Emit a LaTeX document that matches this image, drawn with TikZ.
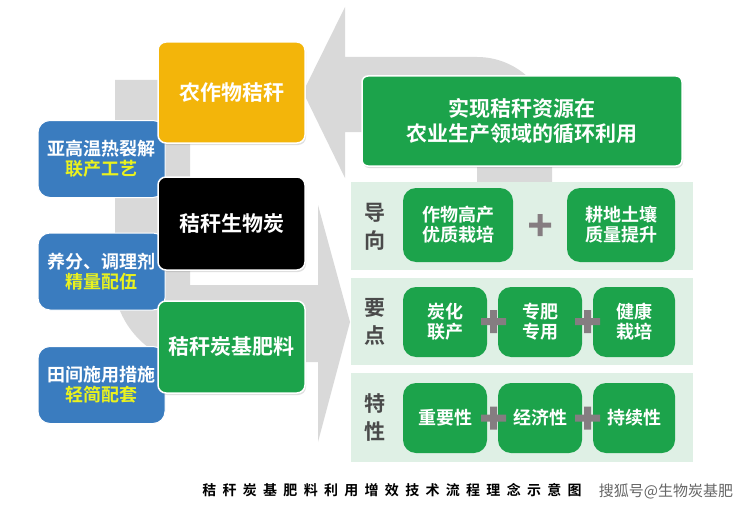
\documentclass[tikz,border=0pt]{standalone}
\usepackage{fontspec}
\setmainfont{Noto Sans CJK SC}[BoldFont={Noto Sans CJK SC Bold}]
\usetikzlibrary{shadows}
\definecolor{loopgray}{HTML}{D9D9D9}
\definecolor{gold}{HTML}{F3B50A}
\definecolor{steel}{HTML}{3A7CBF}
\definecolor{leaf}{HTML}{1CA34B}
\definecolor{mint}{HTML}{DFF0E5}
\definecolor{labelgray}{HTML}{4A4A4A}
\definecolor{plusgray}{HTML}{857D81}
\definecolor{hilite}{HTML}{EAF21E}
\begin{document}
\begin{tikzpicture}[x=1pt,y=-1pt,
  bigbox/.style={rounded corners=8pt, draw=white, line width=1.5pt,
    drop shadow={opacity=0.25, shadow xshift=1pt, shadow yshift=-2pt},
    text=white, align=center, font=\fontsize{21}{25}\selectfont\bfseries,
    minimum width=147pt, minimum height=96pt, inner sep=0pt},
  bluebox/.style={rounded corners=12pt, fill=steel, draw=white, line width=1pt,
    text=white, align=center, font=\fontsize{18}{20}\selectfont\bfseries,
    minimum width=127pt, minimum height=77pt, inner sep=0pt},
  rowband/.style={fill=mint, minimum width=342pt, inner sep=0pt},
  rowlabel/.style={text=labelgray, align=center, font=\fontsize{21}{28}\selectfont\bfseries},
  smallbox/.style={rounded corners=13pt, fill=leaf, text=white, align=center,
    font=\fontsize{18}{20}\selectfont\bfseries, inner sep=0pt},
]
\useasboundingbox (0,0) rectangle (750,511);

% gray loop arrows
\fill[loopgray] (303,92) -- (345,7) -- (345,57) -- (477,57)
  .. controls (518.4,57) and (552,90.6) .. (552,132)
  -- (552,182) -- (477,182) -- (477,132) -- (345,132) -- (345,178) -- cycle;
\fill[loopgray] (115,80) -- (190,80) -- (190,285) -- (318,285) -- (318,205)
  -- (350,322) -- (318,442) -- (318,362) -- (190,362)
  .. controls (148.6,362) and (115,320.6) .. (115,287) -- cycle;

% left blue boxes
\node[bluebox] (p1) at (101.5,159) {亚高温热裂解\\\textcolor{hilite}{联产工艺}};
\node[bluebox] (p2) at (101.5,271.5) {养分、调理剂\\\textcolor{hilite}{精量配伍}};
\node[bluebox] (p3) at (101.5,385) {田间施用措施\\\textcolor{hilite}{轻简配套}};

% big boxes
\node[bigbox, fill=gold, minimum height=101pt] (straw) at (231.5,92.5) {农作物秸秆};
\node[bigbox, fill=black, minimum height=93pt] (char) at (231.5,223.5) {秸秆生物炭};
\node[bigbox, fill=leaf, minimum height=92pt] (fert) at (231.5,347) {秸秆炭基肥料};

% goal box
\node[bigbox, fill=leaf, rounded corners=6pt, minimum width=320pt, minimum height=90pt]
  (goal) at (522,121) {实现秸秆资源在\\农业生产领域的循环利用};

% right panel rows
\node[rowband, minimum height=88pt] (row1) at (522,226) {};
\node[rowband, minimum height=87pt] (row2) at (522,321.5) {};
\node[rowband, minimum height=89pt] (row3) at (522,417.5) {};

\node[rowlabel] (l1) at (375,227) {导\\向};
\node[rowlabel] (l2) at (375,322) {要\\点};
\node[rowlabel] (l3) at (375,418) {特\\性};

\node[smallbox, minimum width=110pt, minimum height=74pt] (a1) at (458,225) {作物高产\\优质栽培};
\node[smallbox, minimum width=108pt, minimum height=74pt] (a2) at (621,225) {耕地土壤\\质量提升};

\node[smallbox, minimum width=84pt, minimum height=70pt] (b1) at (445,322) {炭化\\联产};
\node[smallbox, minimum width=84pt, minimum height=70pt] (b2) at (540,322) {专肥\\专用};
\node[smallbox, minimum width=82pt, minimum height=70pt] (b3) at (634,322) {健康\\栽培};

\node[smallbox, minimum width=84pt, minimum height=70pt] (c1) at (445,418) {重要性};
\node[smallbox, minimum width=84pt, minimum height=70pt] (c2) at (540,418) {经济性};
\node[smallbox, minimum width=82pt, minimum height=70pt] (c3) at (634,418) {持续性};

% plus signs
\fill[plusgray] (529,222.5) rectangle (551,227.5) (537.5,214) rectangle (542.5,236);
\fill[plusgray] (481,318) rectangle (506,325) (490,310) rectangle (497,333);
\fill[plusgray] (575,318) rectangle (600,325) (584,310) rectangle (591,333);
\fill[plusgray] (481,414.5) rectangle (506,421.5) (490,406.5) rectangle (497,429.5);
\fill[plusgray] (575,414.5) rectangle (600,421.5) (584,406.5) rectangle (591,429.5);

% caption and mark
\node[font=\fontsize{14}{16}\selectfont\bfseries\addfontfeatures{LetterSpace=45}, text=black]
  (cap) at (392,490) {秸秆炭基肥料利用增效技术流程理念示意图};
\node[font=\fontsize{15}{17}\selectfont, text=black!60] (mark) at (666,491) {搜狐号@生物炭基肥};
\end{tikzpicture}
\end{document}
